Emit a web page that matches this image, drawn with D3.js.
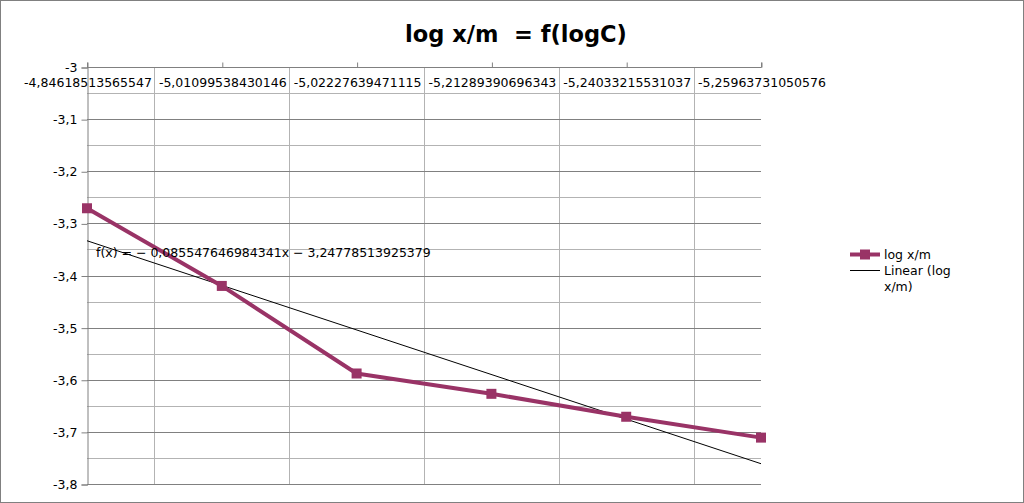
<!DOCTYPE html>
<html>
<head>
<meta charset="utf-8">
<script src="https://cdn.jsdelivr.net/npm/d3@7"></script>
<style>
html,body{margin:0;padding:0;background:#fff;}
svg{display:block;font-family:"DejaVu Sans",sans-serif;}
</style>
</head>
<body>
<svg id="chart" width="1024" height="503"></svg>
<script>
const categories = ["-4,84618513565547","-5,01099538430146","-5,02227639471115","-5,21289390696343","-5,24033215531037","-5,25963731050576"];
const values = [-3.271, -3.420, -3.588, -3.627, -3.671, -3.711];
const yTicks = [-3, -3.1, -3.2, -3.3, -3.4, -3.5, -3.6, -3.7, -3.8];
const yTickLabels = ["-3","-3,1","-3,2","-3,3","-3,4","-3,5","-3,6","-3,7","-3,8"];
const yMinor = [-3.05, -3.15, -3.25, -3.35, -3.45, -3.55, -3.65, -3.75];
const slope = -0.085547646984341, intercept = -3.24778513925379;
const title = "log x/m  = f(logC)";
const eqText = "f(x) = − 0,085547646984341x − 3,24778513925379";
const legendLabels = ["log x/m", "Linear (log", "x/m)"];

const svg = d3.select("#chart");
const W = 1024, H = 503;
const m = {left: 87, right: 263, top: 67, bottom: 19};
const pw = W - m.left - m.right, ph = H - m.top - m.bottom;
const color = "#993366";

svg.append("rect").attr("x",0.5).attr("y",0.5).attr("width",W-1).attr("height",H-1)
  .attr("fill","#fff").attr("stroke","#808080");

const x = d3.scalePoint().domain(d3.range(categories.length)).range([m.left, m.left+pw]);
const y = d3.scaleLinear().domain([-3, -3.8]).range([m.top, m.top+ph]);
const step = x.step();

const g = svg.append("g");
g.selectAll(".minor").data(yMinor).enter().append("line")
  .attr("x1", m.left).attr("x2", m.left+pw)
  .attr("y1", d=>Math.round(y(d))+0.5).attr("y2", d=>Math.round(y(d))+0.5)
  .attr("stroke","#b3b3b3");
g.selectAll(".vg").data(d3.range(categories.length-1)).enter().append("line")
  .attr("x1", d=>Math.round(x(d)+step/2)+0.5).attr("x2", d=>Math.round(x(d)+step/2)+0.5)
  .attr("y1", m.top).attr("y2", m.top+ph)
  .attr("stroke","#b3b3b3");
g.selectAll(".major").data(yTicks).enter().append("line")
  .attr("x1", m.left).attr("x2", m.left+pw)
  .attr("y1", d=>Math.round(y(d))+0.5).attr("y2", d=>Math.round(y(d))+0.5)
  .attr("stroke","#808080");

const yAxis = d3.axisLeft(y).tickValues(yTicks).tickSize(6).tickPadding(4)
  .tickFormat((d,i) => yTickLabels[i]);
const ya = svg.append("g").attr("transform", `translate(${m.left+0.5},0.5)`).call(yAxis);
ya.select(".domain").attr("stroke","#808080");
ya.selectAll(".tick line").attr("stroke","#808080");
ya.selectAll("text").attr("font-size","12.5px").attr("fill","#000").attr("font-family","DejaVu Sans");

const xAxis = d3.axisTop(x).tickSize(5).tickPadding(3).tickFormat(i => categories[i]);
const xa = svg.append("g").attr("transform", `translate(0.5,${m.top+0.5})`).call(xAxis);
xa.select(".domain").attr("stroke","#808080").attr("d", `M${m.left},-5V0H${m.left+pw}V-5`);
xa.selectAll(".tick line").attr("stroke","#808080");
xa.selectAll("text").attr("font-size","12.5px").attr("fill","#000").attr("font-family","DejaVu Sans")
  .attr("dy","1.55em").attr("y",0);

svg.append("line")
  .attr("x1", x(0)).attr("y1", y(slope*1+intercept))
  .attr("x2", x(categories.length-1)).attr("y2", y(slope*categories.length+intercept))
  .attr("stroke","#000").attr("stroke-width",1);

const line = d3.line().x((d,i)=>x(i)).y(d=>y(d));
svg.append("path").datum(values).attr("d", line).attr("fill","none")
  .attr("stroke", color).attr("stroke-width",4).attr("stroke-linejoin","round");
svg.selectAll(".pt").data(values).enter().append("rect")
  .attr("x",(d,i)=>x(i)-5).attr("y",d=>y(d)-5).attr("width",10).attr("height",10)
  .attr("fill", color);

svg.append("text").attr("x",96).attr("y",257).attr("font-size","12.5px")
  .attr("fill","#000").text(eqText);

svg.append("text").attr("x",516).attr("y",42).attr("text-anchor","middle")
  .attr("font-size","22.5px").attr("font-weight","bold").attr("fill","#000")
  .style("white-space","pre").text(title);

const lg = svg.append("g");
lg.append("line").attr("x1",850).attr("x2",880).attr("y1",254.5).attr("y2",254.5)
  .attr("stroke",color).attr("stroke-width",4);
lg.append("rect").attr("x",860).attr("y",249.5).attr("width",10).attr("height",10).attr("fill",color);
lg.append("line").attr("x1",850).attr("x2",880).attr("y1",270.5).attr("y2",270.5)
  .attr("stroke","#000").attr("stroke-width",1);
lg.selectAll(".lt").data(legendLabels).enter().append("text")
  .attr("x",884).attr("y",(d,i)=>259+i*16).attr("font-size","12.5px").attr("fill","#000")
  .text(d=>d);
</script>
</body>
</html>
